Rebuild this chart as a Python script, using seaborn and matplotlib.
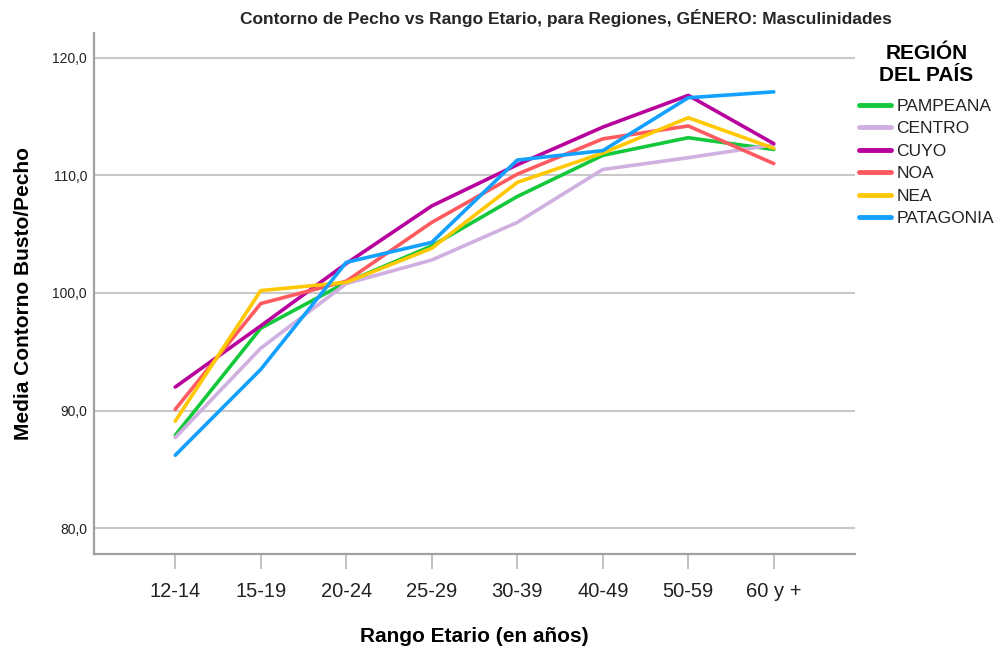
import matplotlib
matplotlib.use("Agg")
import matplotlib.pyplot as plt
import seaborn as sns
import pandas as pd
from matplotlib.ticker import FuncFormatter

rangos = ["12-14", "15-19", "20-24", "25-29", "30-39", "40-49", "50-59", "60 y +"]
regiones = ["PAMPEANA", "CENTRO", "CUYO", "NOA", "NEA", "PATAGONIA"]

pampeana = [87.9, 97.0, 100.9, 104.0, 108.2, 111.7, 113.2, 112.2]
centro = [87.7, 95.3, 100.8, 102.8, 106.0, 110.5, 111.5, 112.6]
cuyo = [92.0, 97.2, 102.5, 107.4, 110.9, 114.1, 116.8, 112.7]
noa = [90.1, 99.1, 101.0, 106.0, 110.1, 113.1, 114.2, 111.0]
nea = [89.1, 100.2, 100.9, 103.8, 109.4, 111.9, 114.9, 112.3]
patagonia = [86.2, 93.5, 102.6, 104.3, 111.3, 112.1, 116.6, 117.1]

colores = ["#14c83c", "#cfb0e0", "#b8009c", "#ff5a5f", "#ffc800", "#14a0ff"]

series = [pampeana, centro, cuyo, noa, nea, patagonia]
rows = []
for reg, vals in zip(regiones, series):
    for r, v in zip(rangos, vals):
        rows.append({"Rango": r, "Valor": v, "Region": reg})
df = pd.DataFrame(rows)

sns.set_theme(style="white")
plt.rcParams["font.family"] = ["Liberation Sans", "DejaVu Sans"]

fig = plt.figure(figsize=(10, 6.48), dpi=100)
ax = fig.add_axes([0.094, 0.145, 0.761, 0.804])

sns.lineplot(data=df, x="Rango", y="Valor", hue="Region", hue_order=regiones,
             palette=colores, linewidth=2.6, sort=False, ax=ax, legend=True)

ax.set_xlim(-0.95, 7.95)
ax.set_ylim(77.8, 122.1)
ax.set_yticks([80, 90, 100, 110, 120])
ax.yaxis.set_major_formatter(FuncFormatter(lambda v, p: f"{v:.1f}".replace(".", ",")))
ax.grid(axis="y", color="#c8c8c8", linewidth=1.5)
ax.grid(axis="x", visible=False)
ax.set_axisbelow(True)

for s in ["top", "right"]:
    ax.spines[s].set_visible(False)
for s in ["left", "bottom"]:
    ax.spines[s].set_color("#a0a0a0")
    ax.spines[s].set_linewidth(1.6)

ax.tick_params(axis="x", length=11, width=1.2, color="#b8b8b8", pad=9, labelsize=14.5, labelcolor="#222222", bottom=True)
ax.tick_params(axis="y", length=0, pad=5, labelsize=10, labelcolor="#222222")

ax.set_xlabel("Rango Etario (en años)", fontsize=15, fontweight="bold", labelpad=19, color="black")
ax.set_ylabel("Media Contorno Busto/Pecho", fontsize=15, fontweight="bold", labelpad=14, color="black")
fig.text(0.566, 0.972, "Contorno de Pecho vs Rango Etario, para Regiones, GÉNERO: Masculinidades",
         ha="center", va="center", fontsize=12.5, fontweight="bold")

leg = ax.legend(title="REGIÓN\nDEL PAÍS", loc="upper left", bbox_to_anchor=(0.852, 0.943),
                bbox_transform=fig.transFigure, frameon=False, fontsize=12.5,
                handlelength=1.85, handletextpad=0.3, labelspacing=0.42, borderaxespad=0)
leg.get_title().set_fontsize(15)
leg.get_title().set_fontweight("bold")
leg.get_title().set_color("black")
leg.get_title().set_multialignment("center")
leg._legend_box.align = "center"
leg._legend_box.sep = 10
for t in leg.get_texts():
    t.set_color("#222222")
for line in leg.get_lines():
    line.set_linewidth(3.5)

fig.savefig("out.png", dpi=100)
